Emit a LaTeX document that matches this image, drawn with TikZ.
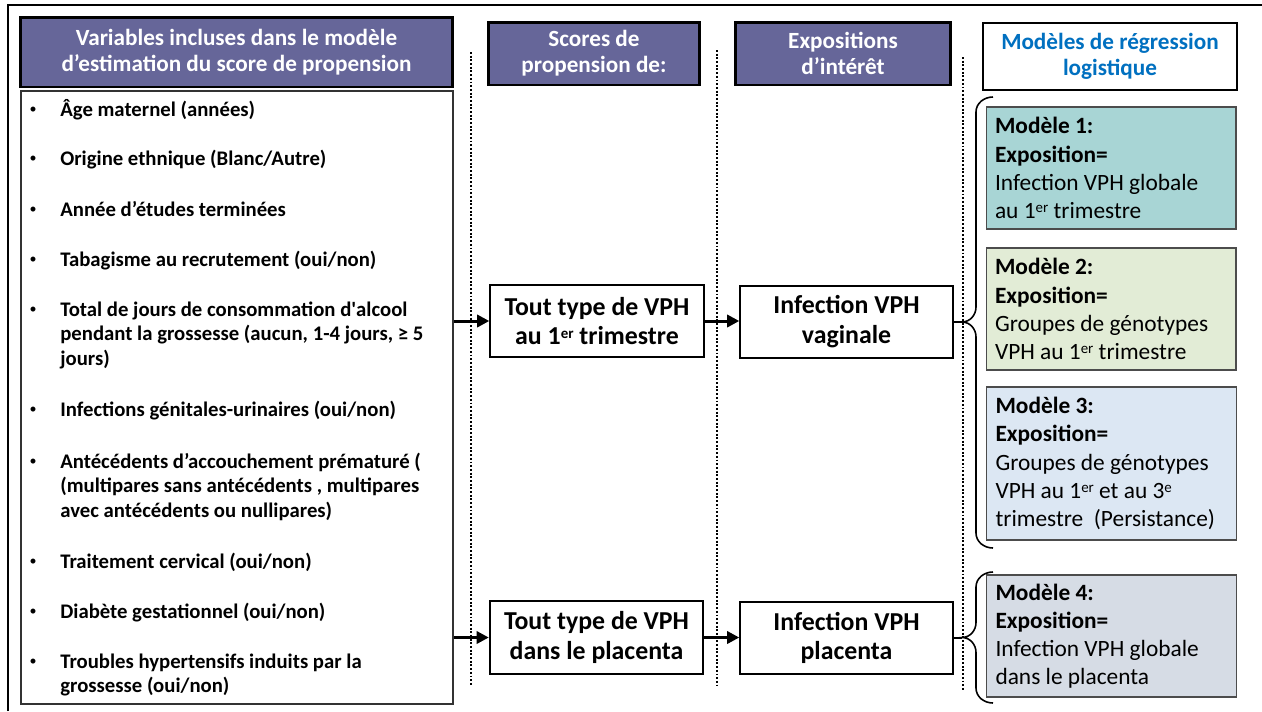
\documentclass[tikz,border=0pt]{standalone}
\usepackage{fontspec}
\setmainfont{Carlito}
\usetikzlibrary{arrows.meta,calc,positioning}
\definecolor{hdrcol}{RGB}{102,102,153}
\definecolor{titlecol}{RGB}{0,112,192}
\definecolor{modA}{RGB}{168,213,213}
\definecolor{modB}{RGB}{226,236,214}
\definecolor{modC}{RGB}{220,231,243}
\definecolor{modD}{RGB}{214,220,229}
\newcommand{\ord}[1]{\raisebox{0.55ex}{\fontsize{8.5}{8.5}\selectfont #1}}

\begin{document}
\begin{tikzpicture}[x=0.02cm,y=-0.02cm,
  hdr/.style={draw=black,line width=1.7pt,fill=hdrcol,text=white,align=center,
    font=\fontsize{13.2}{14.8}\selectfont\bfseries,inner sep=0pt},
  etape/.style={draw=black,line width=1.1pt,fill=white,align=center,
    font=\fontsize{14.7}{17}\selectfont\bfseries,minimum width=4.27cm,minimum height=1.45cm,inner sep=0pt},
  modbox/.style={draw=black!70,line width=0.6pt,text width=4.64cm,align=flush left,
    font=\fontsize{13.3}{16}\selectfont,inner xsep=0.18cm,inner ysep=0pt},
  itm/.style={anchor=base west,inner sep=0pt,font=\fontsize{11.8}{14.2}\selectfont\bfseries},
  blt/.style={anchor=base,inner sep=0pt,font=\fontsize{8}{8}\selectfont},
  fleche/.style={-{Triangle[length=7pt,width=7pt]},line width=1.7pt},
  sep/.style={densely dotted,line width=1.1pt}]
\useasboundingbox (0,0) rectangle (1262,711);
% frame
\draw[line width=1.7pt] (8,711) -- (8,5) -- (1262,5);
% column titles
\node[hdr,minimum width=8.66cm,minimum height=1.4cm] (hvar) at (236.5,52)
  {Variables incluses dans le modèle\\d’estimation du score de propension};
\node[hdr,minimum width=4.24cm,minimum height=1.26cm] (hscore) at (594,53.5) {Scores de\\propension de:};
\node[hdr,minimum width=4.32cm,minimum height=1.26cm] (hexpo) at (843,53.5) {Expositions\\d’intérêt};
\node[hdr,fill=white,text=titlecol,line width=1.1pt,minimum width=5.08cm,minimum height=1.34cm] (hmod)
  at (1110,56.5) {Modèles de régression\\logistique};
% separators
\draw[sep] (471,52) -- (471,685);
\draw[sep] (717,50) -- (717,685);
\draw[sep] (963,57) -- (963,690);
% left: covariates
\node[draw=black!80,line width=1.1pt,minimum width=8.64cm,minimum height=12.26cm,inner sep=0pt] (varbox)
  at (237,397.5) {};
\foreach \y/\txt in {116/{Âge maternel (années)},
    165/{Origine ethnique (Blanc/Autre)},
    216/{Année d’études terminées},
    266/{Tabagisme au recrutement (oui/non)},
    316/{Total de jours de consommation d\textquotesingle alcool\\pendant la grossesse (aucun, 1-4 jours, ≥ 5\\jours)},
    416/{Infections génitales-urinaires (oui/non)},
    468/{Antécédents d’accouchement prématuré (\\(multipares sans antécédents , multipares\\avec antécédents ou nullipares)},
    568/{Traitement cervical (oui/non)},
    618/{Diabète gestationnel (oui/non)},
    668/{Troubles hypertensifs induits par la\\grossesse (oui/non)}}
{
  \node[blt] (blt\y) at (33,\y) {\raisebox{1.2pt}{\textbullet}};
  \node[itm] (itm\y) at (60,\y) {\parbox[t]{7.8cm}{\raggedright\txt}};
}
% middle: scores and exposures
\node[etape] (sc1) at (597,321) {Tout type de VPH\\au 1\ord{er} trimestre};
\node[etape] (sc2) at (596.5,637.5) {Tout type de VPH\\dans le placenta};
\node[etape,minimum width=4.25cm] (ex1) at (846.5,322) {Infection VPH\\vaginale};
\node[etape,minimum width=4.25cm] (ex2) at (846.5,638) {Infection VPH\\placenta};
\draw[fleche] (varbox.east |- sc1.west) -- (sc1.west);
\draw[fleche] (sc1.east) -- (sc1.east -| ex1.west);
\draw[fleche] (varbox.east |- sc2.west) -- (sc2.west);
\draw[fleche] (sc2.east) -- (sc2.east -| ex2.west);
% right: models
\node[modbox,fill=modA,minimum height=2.44cm] (m1) at (1111,168)
  {\textbf{Modèle 1:}\\\textbf{Exposition=}\\Infection VPH globale\\au 1\ord{er} trimestre};
\node[modbox,fill=modB,minimum height=2.44cm] (m2) at (1111,309)
  {\textbf{Modèle 2:}\\\textbf{Exposition=}\\Groupes de génotypes\\VPH au 1\ord{er} trimestre};
\node[modbox,fill=modC,minimum height=3.06cm] (m3) at (1111.5,463.5)
  {\textbf{Modèle 3:}\\\textbf{Exposition=}\\Groupes de génotypes\\VPH au 1\ord{er} et au 3\ord{e}\\trimestre\ \ (Persistance)};
\node[modbox,fill=modD,minimum height=2.44cm] (m4) at (1111.5,636)
  {\textbf{Modèle 4:}\\\textbf{Exposition=}\\Infection VPH globale\\dans le placenta};
% braces
\coordinate (tip1) at (962,322);
\coordinate (tip2) at (962,637.5);
\draw[line width=0.9pt] (993,97) to[out=180,in=90] (976,112) -- (976,307)
  to[out=-90,in=0] (tip1) to[out=0,in=90] (976,337) -- (976,533) to[out=-90,in=180] (993,548);
\draw[line width=0.9pt] (993,572) to[out=180,in=90] (976,587) -- (976,622.5)
  to[out=-90,in=0] (tip2) to[out=0,in=90] (976,652.5) -- (976,688) to[out=-90,in=180] (993,703);
\draw[line width=0.9pt] (ex1.east) -- (ex1.east -| tip1);
\draw[line width=0.9pt] (ex2.east) -- (ex2.east -| tip2);
\end{tikzpicture}
\end{document}
